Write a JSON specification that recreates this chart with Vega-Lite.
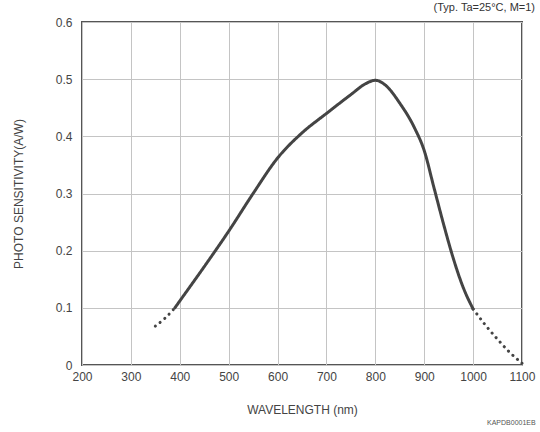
{
  "$schema": "https://vega.github.io/schema/vega-lite/v6.json",
  "width": 440,
  "height": 343,
  "autosize": "none",
  "padding": {"left": 82, "top": 22, "right": 18, "bottom": 67},
  "background": "white",
  "title": {
    "text": "(Typ. Ta=25°C, M=1)",
    "anchor": "end",
    "frame": "group",
    "dx": 13,
    "offset": 3,
    "fontSize": 11,
    "fontWeight": "normal",
    "font": "Liberation Sans",
    "color": "#333"
  },
  "config": {
    "view": {"stroke": "#555", "strokeWidth": 2},
    "axis": {
      "labelFont": "Liberation Sans",
      "titleFont": "Liberation Sans",
      "labelFontSize": 12,
      "titleFontSize": 12,
      "titleFontWeight": "normal",
      "labelColor": "#444",
      "titleColor": "#444",
      "gridColor": "#c4c4c4",
      "gridWidth": 1,
      "gridOpacity": 1,
      "domain": false,
      "ticks": false,
      "labelFlush": false
    }
  },
  "layer": [
    {
      "data": {
        "values": [
          {"wl": 350, "s": 0.068, "seg": "a"},
          {"wl": 370, "s": 0.082, "seg": "a"},
          {"wl": 390, "s": 0.100, "seg": "a"},
          {"wl": 390, "s": 0.100, "seg": "b"},
          {"wl": 400, "s": 0.112, "seg": "b"},
          {"wl": 450, "s": 0.172, "seg": "b"},
          {"wl": 500, "s": 0.234, "seg": "b"},
          {"wl": 550, "s": 0.300, "seg": "b"},
          {"wl": 600, "s": 0.362, "seg": "b"},
          {"wl": 650, "s": 0.406, "seg": "b"},
          {"wl": 700, "s": 0.440, "seg": "b"},
          {"wl": 750, "s": 0.473, "seg": "b"},
          {"wl": 780, "s": 0.492, "seg": "b"},
          {"wl": 800, "s": 0.498, "seg": "b"},
          {"wl": 820, "s": 0.490, "seg": "b"},
          {"wl": 850, "s": 0.458, "seg": "b"},
          {"wl": 880, "s": 0.415, "seg": "b"},
          {"wl": 900, "s": 0.375, "seg": "b"},
          {"wl": 920, "s": 0.310, "seg": "b"},
          {"wl": 940, "s": 0.245, "seg": "b"},
          {"wl": 960, "s": 0.185, "seg": "b"},
          {"wl": 980, "s": 0.135, "seg": "b"},
          {"wl": 1000, "s": 0.098, "seg": "b"},
          {"wl": 1000, "s": 0.098, "seg": "c"},
          {"wl": 1025, "s": 0.070, "seg": "c"},
          {"wl": 1050, "s": 0.045, "seg": "c"},
          {"wl": 1075, "s": 0.022, "seg": "c"},
          {"wl": 1100, "s": 0.003, "seg": "c"}
        ]
      },
      "mark": {"type": "line", "color": "#444", "strokeWidth": 3, "strokeCap": "round", "interpolate": "monotone"},
      "encoding": {
        "x": {
          "field": "wl", "type": "quantitative",
          "scale": {"domain": [200, 1100], "nice": false},
          "axis": {"values": [200, 300, 400, 500, 600, 700, 800, 900, 1000, 1100], "format": "d", "title": "WAVELENGTH (nm)", "labelPadding": 6, "titlePadding": 22}
        },
        "y": {
          "field": "s", "type": "quantitative",
          "scale": {"domain": [0, 0.6], "nice": false},
          "axis": {"values": [0, 0.1, 0.2, 0.3, 0.4, 0.5, 0.6], "title": "PHOTO SENSITIVITY(A/W)", "labelExpr": "datum.value == 0 ? '0' : format(datum.value, '.1f')", "labelPadding": 10, "titlePadding": 30}
        },
        "detail": {"field": "seg"},
        "strokeDash": {
          "field": "seg", "type": "nominal",
          "scale": {"domain": ["a", "b", "c"], "range": [[0.1, 6], [1, 0], [0.1, 6]]},
          "legend": null
        }
      }
    },
    {
      "data": {"values": [{"note": "KAPDB0001EB"}]},
      "mark": {"type": "text", "align": "right", "baseline": "middle", "fontSize": 7, "font": "Liberation Sans", "color": "#555", "clip": false},
      "encoding": {
        "text": {"field": "note"},
        "x": {"datum": 1128, "type": "quantitative"},
        "y": {"datum": -0.101, "type": "quantitative"}
      }
    }
  ]
}
